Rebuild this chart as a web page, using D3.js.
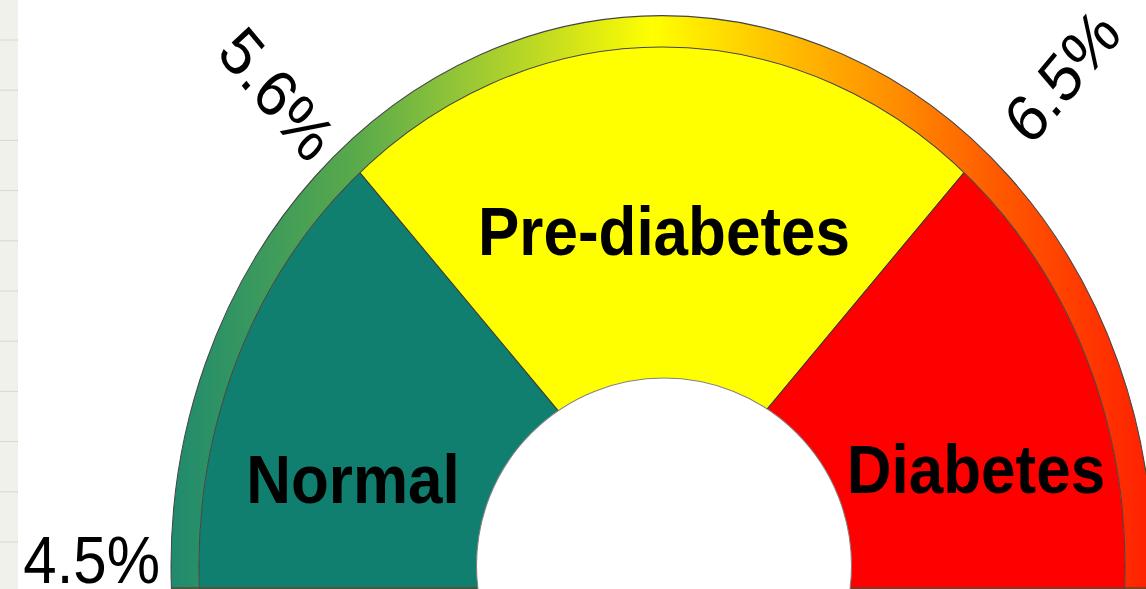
<!DOCTYPE html>
<html>
<head>
<meta charset="utf-8">
<script src="https://cdn.jsdelivr.net/npm/d3@7"></script>
<style>
    html, body { margin: 0; padding: 0; background: #fff; }
    svg { display: block; }
    text { font-family: "Liberation Sans", Arial, sans-serif; }
</style>
</head>
<body>
<svg id="chart" width="1146" height="589"></svg>
<script>
// A1c ranges on the half dial
const categories = ["Normal", "Pre-diabetes", "Diabetes"];
const spans = [47, 86, 47];                 // degrees of the half dial per range
const tickLabels = ["4.5%", "5.6%", "6.5%"]; // value where each range starts

const width = 1146, height = 589;
const stretch = 1.12;            // dial is drawn a bit taller than round
const cx = 662, cy = 505;        // centre of the rim
const pieCy = 478;               // slices fan out from a point a little higher
const rOuter = 491, rInner = 463;
const hole = {cx: 664, rx: 187.5, ry: 167.5};

const sliceColors = {"Normal": "#117F6F", "Pre-diabetes": "#FFFF00", "Diabetes": "#FF0000"};
const labelPos = {"Normal": [353, 449], "Pre-diabetes": [664, 228], "Diabetes": [976, 440]};

const svg = d3.select("#chart");
const defs = svg.append("defs");

// notebook margin on the left edge
svg.append("rect")
    .attr("width", 18)
    .attr("height", height)
    .attr("fill", "#F1F1EB");
svg.selectAll(".rule")
    .data(d3.range(11))
    .enter().append("line")
    .attr("class", "rule")
    .attr("x1", 0).attr("x2", 18)
    .attr("y1", i => 40 + i * 50.2).attr("y2", i => 40 + i * 50.2)
    .attr("stroke", "#D8D8D0");

// gradient lives in the rim path's own (centred) space
const rimGrad = defs.append("linearGradient")
    .attr("id", "rim")
    .attr("gradientUnits", "userSpaceOnUse")
    .attr("x1", -rOuter).attr("x2", rOuter)
    .attr("y1", 0).attr("y2", 0);
[[0, "#1F8A6E"], [0.19, "#5AAA4A"], [0.28, "#8CC23A"], [0.39, "#C8DE1E"],
 [0.49, "#FFFF00"], [0.62, "#FFC000"], [0.74, "#FF8C00"], [0.84, "#FF5A00"], [1, "#FF2000"]]
    .forEach(s => rimGrad.append("stop").attr("offset", s[0]).attr("stop-color", s[1]));

defs.append("clipPath")
    .attr("id", "face")
    .append("circle")
    .attr("cx", cx).attr("cy", cy).attr("r", rInner);

const g = svg.append("g").attr("transform", "scale(1," + stretch + ")");

const ranges = categories.map((name, i) => ({name: name, span: spans[i], tick: tickLabels[i]}));
const pie = d3.pie()
    .sort(null)
    .value(d => d.span)
    .startAngle(-Math.PI / 2)
    .endAngle(Math.PI / 2);
const slices = pie(ranges);

// outer slices run on below the centre so the face is filled to the bottom
const sliceArc = d3.arc()
    .innerRadius(0)
    .outerRadius(700)
    .startAngle(d => d.index === 0 ? -Math.PI : d.startAngle)
    .endAngle(d => d.index === slices.length - 1 ? Math.PI : d.endAngle);

g.append("g")
    .attr("clip-path", "url(#face)")
    .append("g")
    .attr("transform", "translate(" + cx + "," + pieCy + ")")
    .selectAll("path")
    .data(slices)
    .enter().append("path")
    .attr("d", sliceArc)
    .attr("fill", d => sliceColors[d.data.name])
    .attr("stroke", "#3C3C3C")
    .attr("stroke-width", 1);

const rimArc = d3.arc()
    .innerRadius(rInner)
    .outerRadius(rOuter)
    .startAngle(0)
    .endAngle(2 * Math.PI);

g.append("path")
    .attr("transform", "translate(" + cx + "," + cy + ")")
    .attr("d", rimArc())
    .attr("fill", "url(#rim)")
    .attr("stroke", "#444")
    .attr("stroke-width", 1);

// bottom edge of the dial
g.append("line")
    .attr("x1", cx - rOuter).attr("x2", width)
    .attr("y1", (height - 1) / stretch).attr("y2", (height - 1) / stretch)
    .attr("stroke", "#5A4A30")
    .attr("stroke-width", 1.2);

g.append("ellipse")
    .attr("cx", hole.cx).attr("cy", cy)
    .attr("rx", hole.rx).attr("ry", hole.ry)
    .attr("fill", "#fff")
    .attr("stroke", "#808080")
    .attr("stroke-width", 1);

g.selectAll(".range-label")
    .data(ranges)
    .enter().append("text")
    .attr("class", "range-label")
    .attr("x", d => labelPos[d.name][0])
    .attr("y", d => labelPos[d.name][1])
    .attr("text-anchor", "middle")
    .attr("font-size", 62)
    .attr("font-weight", "bold")
    .attr("fill", "#000")
    .text(d => d.name);

// tick values sit on the start of each range, reading along the radius
g.selectAll(".tick-label")
    .data(slices)
    .enter().append("text")
    .attr("class", "tick-label")
    .attr("transform", d => {
        const a = d.startAngle;
        const r = a < 0 ? rOuter + 11 : rOuter + 33;
        const x = cx + r * Math.sin(a), y = cy - r * Math.cos(a);
        const rot = a < 0 ? a * 180 / Math.PI + 90 : a * 180 / Math.PI - 90;
        return "translate(" + x + "," + y + ") rotate(" + rot + ")";
    })
    .attr("text-anchor", d => d.startAngle < 0 ? "end" : "start")
    .attr("dominant-baseline", "central")
    .attr("dy", -6)
    .attr("font-size", 60)
    .attr("fill", "#000")
    .text(d => d.data.tick);
</script>
</body>
</html>
